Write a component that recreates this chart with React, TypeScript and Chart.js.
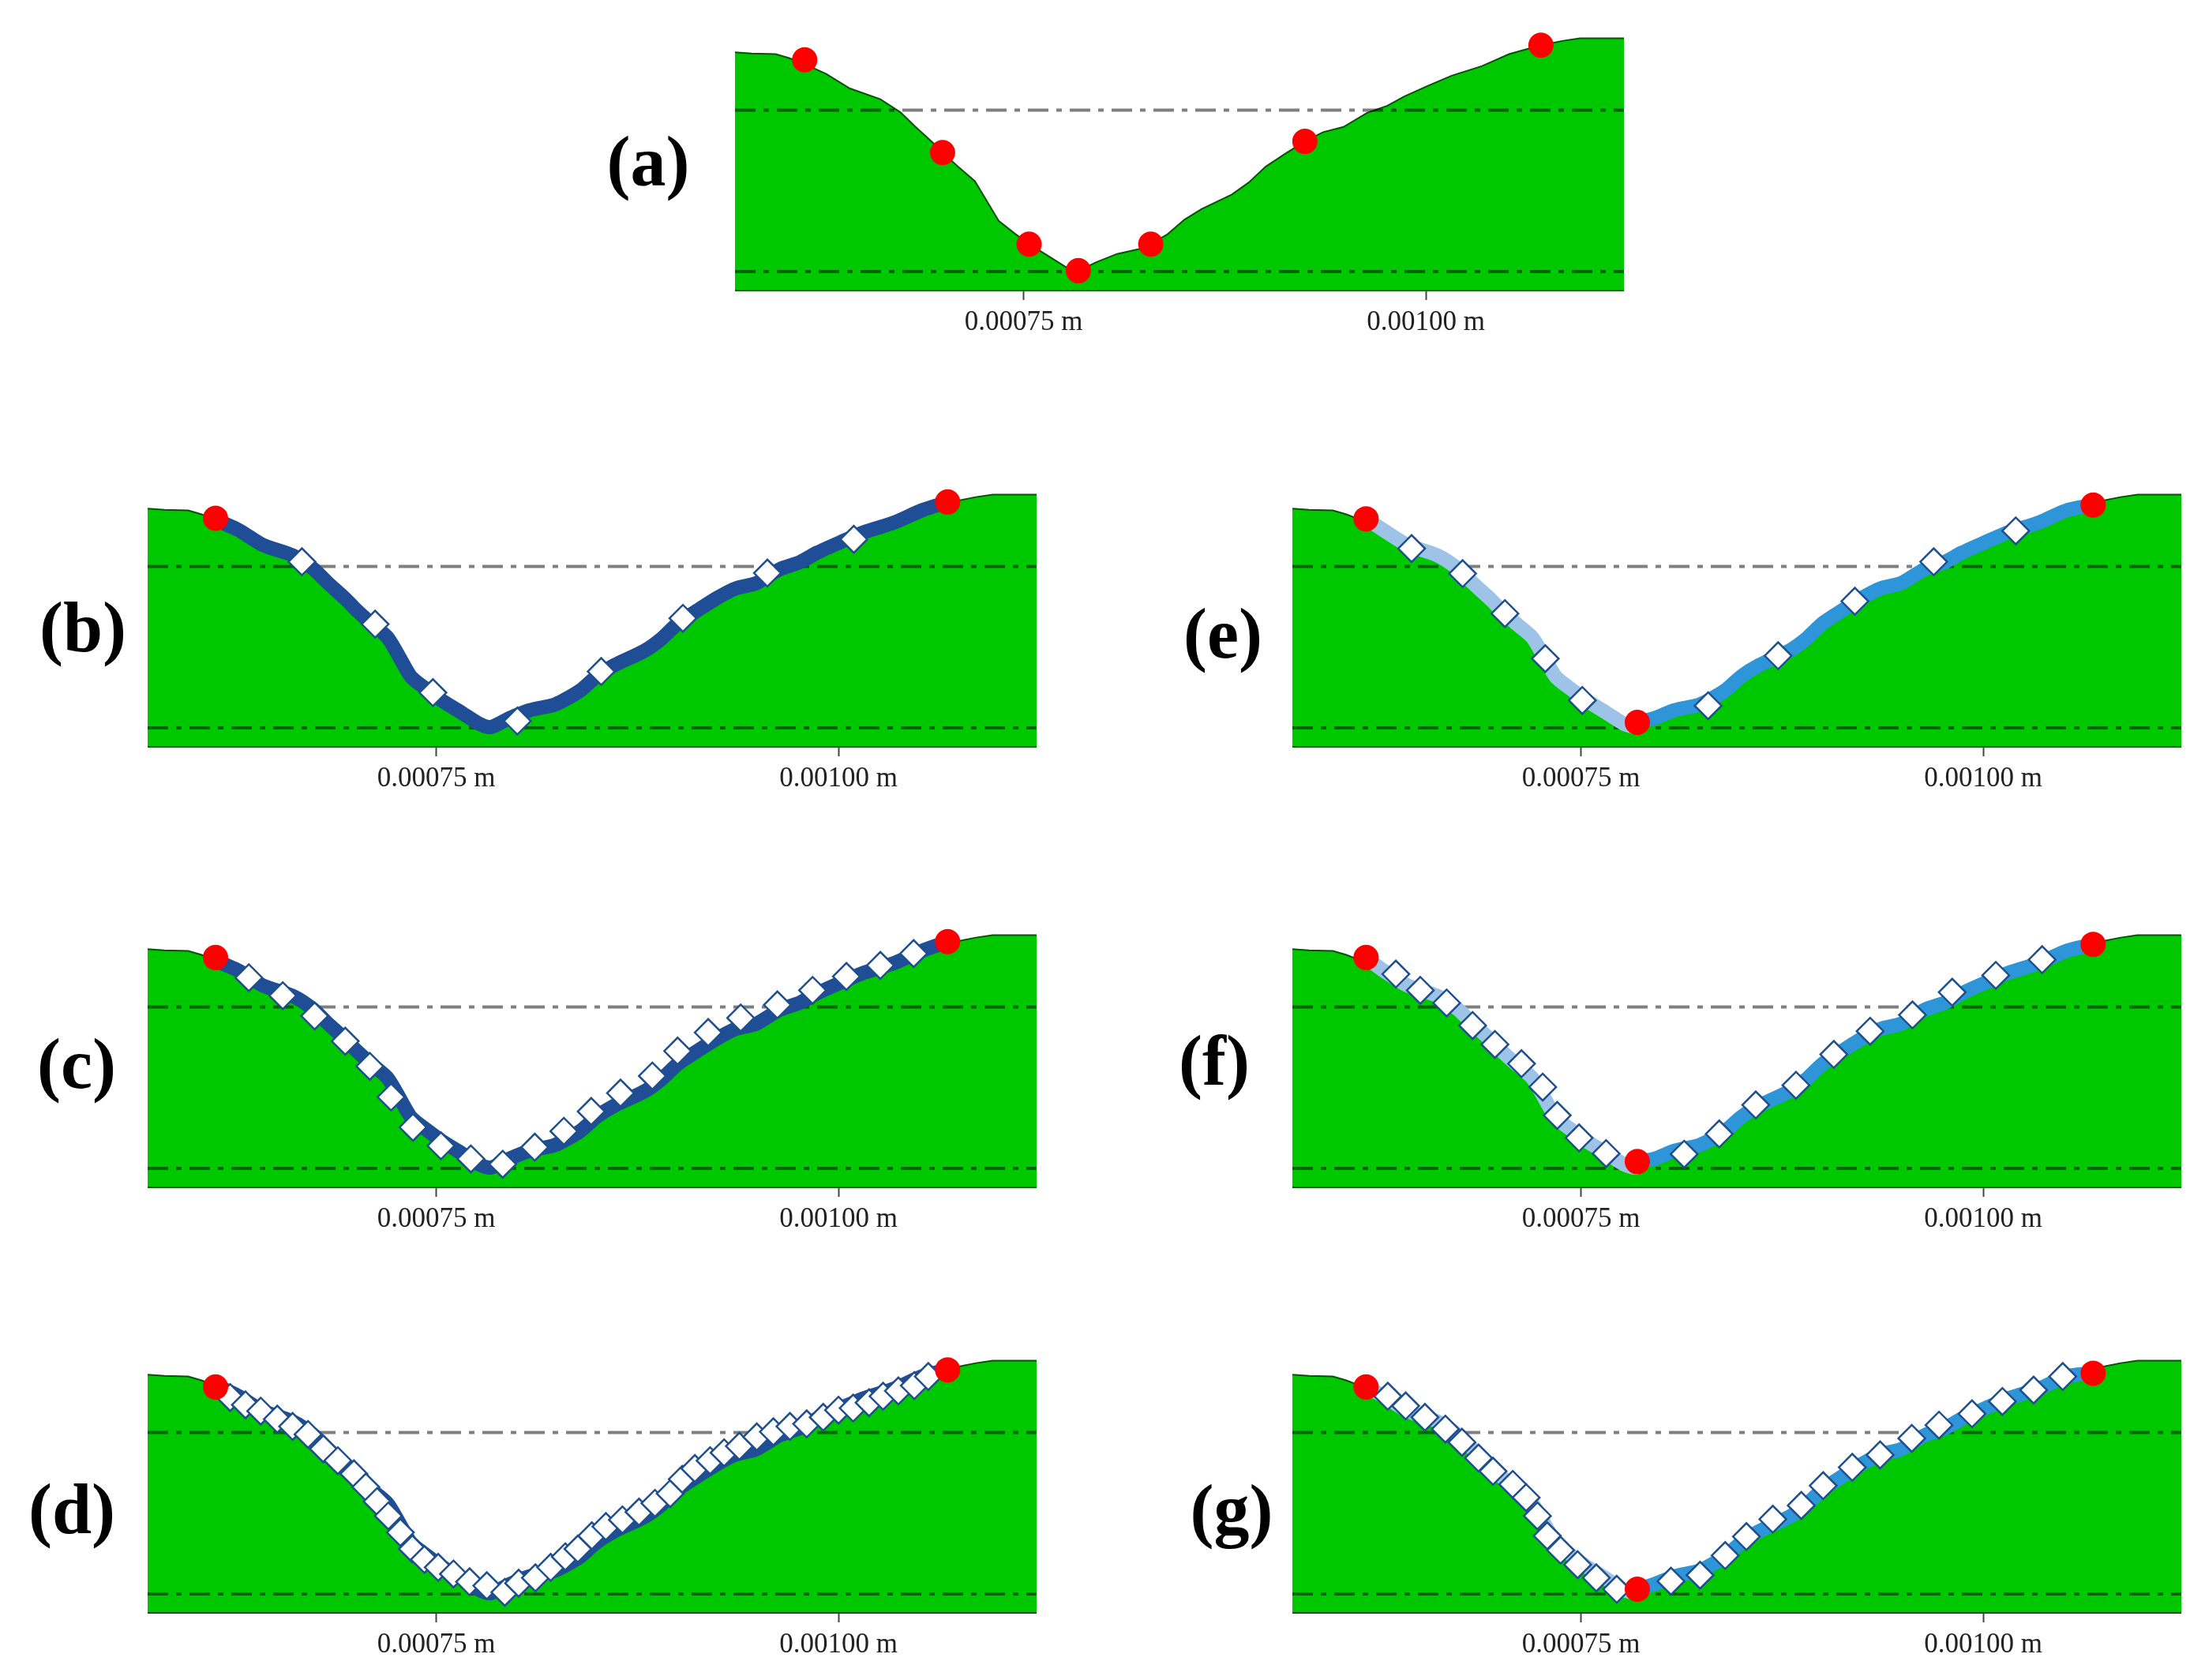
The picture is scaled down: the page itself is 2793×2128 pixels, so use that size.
import { useEffect, useRef } from 'react';
import { Chart, registerables } from 'chart.js';

Chart.register(...registerables);

// x in micrometres, y in height units
const profileX = [570.6, 581.1, 595.8, 604.2, 614.7, 627.3, 642.0, 660.9, 673.5, 681.9, 694.5, 699.6, 709.2, 719.7, 728.1, 734.5, 745.0, 753.4, 766.0, 776.5, 784.0, 795.4, 808.0, 822.7, 829.0, 839.5, 850.0, 860.5, 879.4, 889.9, 900.4, 913.0, 924.8, 936.1, 948.8, 963.5, 976.1, 986.6, 1001.3, 1016.0, 1034.9, 1051.7, 1071.5, 1085.3, 1095.8, 1123.1];
const profileY = [169.2, 168.3, 167.9, 165.1, 160.4, 153.8, 143.4, 135.8, 126.4, 117.0, 103.8, 97.7, 87.7, 77.4, 61.3, 49.1, 39.6, 32.5, 23.6, 16.0, 13.6, 19.8, 25.5, 29.2, 32.5, 39.6, 50.0, 57.5, 67.9, 76.4, 87.7, 97.2, 105.7, 112.3, 116.0, 126.0, 131.1, 137.7, 145.3, 152.5, 159.4, 167.9, 174.2, 177.4, 179.2, 179.2];

const xMin = 570.6;
const xMax = 1123.1;
const yMax = 180;
const upperLevel = 128;
const lowerLevel = 13;
const tickValues = [750, 1000];

const redAX = [613.9, 699.6, 753.4, 784.0, 829.0, 924.8, 1071.5];
const redAY = [163.8, 97.7, 32.5, 13.6, 32.5, 105.7, 174.2];

const redBX = [612.8, 1067.8];
const redBY = [162.3, 173.9];
const nodesBX = [666.5, 712.0, 747.9, 800.4, 852.5, 903.3, 955.8, 1009.5];
const nodesBY = [131.3, 86.9, 38.1, 17.8, 53.1, 91.0, 123.3, 147.3];

const redCX = [612.8, 1067.8];
const redCY = [163.2, 174.5];
const nodesCX = [633.5, 654.6, 674.4, 693.4, 708.7, 721.9, 735.5, 752.9, 771.5, 791.3, 811.2, 829.3, 846.3, 864.5, 884.3, 900.0, 919.0, 939.2, 962.0, 983.9, 1004.9, 1026.0, 1046.7];
const nodesCY = [148.8, 136.0, 121.6, 103.6, 85.7, 63.8, 42.2, 29.1, 19.7, 15.9, 28.1, 39.4, 53.5, 66.6, 78.8, 96.6, 109.8, 120.1, 129.5, 139.8, 149.7, 157.6, 166.0];

const redDX = [612.8, 1067.8];
const redDY = [160.4, 172.6];
const nodesDX = [621.9, 631.4, 640.9, 651.2, 660.7, 670.3, 679.8, 688.8, 698.8, 706.2, 713.2, 720.2, 727.7, 735.1, 742.6, 751.2, 760.7, 770.7, 781.4, 792.6, 801.2, 811.6, 821.1, 830.2, 838.0, 846.7, 855.4, 865.7, 876.0, 885.9, 895.4, 902.9, 910.7, 920.2, 928.9, 938.4, 949.2, 959.5, 969.8, 980.2, 990.5, 1000.0, 1009.1, 1019.0, 1027.7, 1037.2, 1047.1, 1055.8];
const nodesDY = [152.9, 147.7, 143.2, 137.5, 132.3, 126.6, 116.3, 107.9, 98.5, 89.1, 78.8, 68.5, 56.8, 45.0, 37.5, 31.9, 27.2, 21.6, 18.8, 14.1, 20.6, 24.4, 31.9, 39.4, 45.0, 54.4, 61.0, 65.7, 71.3, 77.5, 84.4, 94.7, 102.3, 107.9, 113.5, 118.2, 124.8, 128.5, 132.3, 134.1, 138.8, 143.9, 145.4, 149.2, 153.8, 157.6, 161.4, 167.9];

const redEX = [616.4, 785.0, 1068.3];
const redEY = [161.9, 16.9, 171.7];
const nodesEX = [644.7, 676.4, 702.7, 727.8, 750.8, 829.0, 872.5, 920.2, 969.2, 1020.2];
const nodesEY = [140.7, 122.9, 94.4, 62.3, 32.5, 28.7, 64.4, 103.2, 131.3, 153.3];

const redFX = [616.4, 785.0, 1068.3];
const redFY = [163.2, 17.8, 172.6];
const nodesFX = [634.9, 650.1, 666.5, 682.6, 696.5, 713.0, 726.2, 735.2, 748.8, 765.6, 814.1, 835.9, 858.6, 883.6, 907.1, 929.7, 956.0, 980.7, 1007.8, 1036.6];
const nodesFY = [151.4, 139.8, 130.8, 114.8, 101.3, 87.6, 70.9, 50.7, 34.7, 23.5, 23.1, 37.5, 58.2, 72.2, 94.2, 110.7, 122.3, 138.5, 150.5, 161.7];

const redGX = [616.4, 785.0, 1068.3];
const redGY = [160.4, 16.3, 170.2];
const nodesGX = [629.9, 641.0, 653.0, 665.7, 676.0, 686.3, 695.3, 707.6, 715.9, 722.9, 729.0, 737.3, 747.9, 759.5, 772.2, 805.9, 824.0, 839.6, 852.8, 869.2, 886.9, 900.5, 918.6, 935.9, 955.6, 972.5, 993.0, 1011.9, 1031.3, 1049.4];
const nodesGY = [153.8, 146.9, 138.8, 130.4, 121.0, 109.8, 100.4, 91.0, 81.6, 68.5, 54.4, 44.1, 33.8, 24.4, 16.3, 22.0, 26.3, 40.3, 53.8, 66.2, 76.0, 90.1, 103.2, 112.0, 123.8, 133.2, 141.3, 150.1, 158.2, 167.9];

const zip = (xs: number[], ys: number[]) => xs.map((x, i) => ({ x, y: ys[i] }));

// the thick trace follows the surface between two red points
const pathBetween = (xs: number[], ys: number[], from: number, to: number) => [
  { x: xs[from], y: ys[from] },
  ...zip(profileX, profileY).filter((p) => p.x > xs[from] && p.x < xs[to]),
  { x: xs[to], y: ys[to] },
];

const DARK_BLUE = '#1f4e96';
const LIGHT_BLUE = '#9dc3e6';
const MID_BLUE = '#2e96d8';

interface PanelProps {
  label: string;
  left: number;
  base: number;
  labelX: number;
  labelY: number;
  redX: number[];
  redY: number[];
  nodesX?: number[];
  nodesY?: number[];
}

const PLOT_WIDTH = 1126;
const PLOT_HEIGHT = 320;
const PAD_TOP = 30;
const AXIS_HEIGHT = 70;

const Panel = (props: PanelProps) => {
  const canvasRef = useRef<HTMLCanvasElement>(null);

  useEffect(() => {
    const { redX, redY, nodesX, nodesY } = props;
    const levelLine = (y: number) => ({
      data: [{ x: xMin, y }, { x: xMax, y }],
      borderColor: 'rgba(0,0,0,0.5)',
      borderWidth: 4,
      borderDash: [26, 10, 7, 10],
      pointRadius: 0,
      order: 4,
    });
    const trace = (from: number, to: number, color: string) => ({
      data: pathBetween(redX, redY, from, to),
      borderColor: color,
      borderWidth: 18,
      borderCapStyle: 'round' as const,
      borderJoinStyle: 'round' as const,
      tension: 0.25,
      pointRadius: 0,
      clip: false,
      order: 3,
    });

    const datasets: any[] = [
      {
        data: zip(profileX, profileY),
        borderColor: '#0b4f0b',
        borderWidth: 2,
        backgroundColor: '#00c800',
        fill: 'origin',
        pointRadius: 0,
        order: 5,
      },
      levelLine(upperLevel),
      levelLine(lowerLevel),
    ];

    if (nodesX && nodesY) {
      if (redX.length === 3) {
        datasets.push(trace(0, 1, LIGHT_BLUE), trace(1, 2, MID_BLUE));
      } else {
        datasets.push(trace(0, 1, DARK_BLUE));
      }
      datasets.push({
        data: zip(nodesX, nodesY),
        showLine: false,
        pointStyle: 'rectRot',
        pointRadius: 17,
        pointBackgroundColor: '#ffffff',
        pointBorderColor: '#1f4e8c',
        pointBorderWidth: 2.5,
        clip: false,
        order: 2,
      });
    }

    datasets.push({
      data: zip(redX, redY),
      showLine: false,
      pointStyle: 'circle',
      pointRadius: 16,
      pointBackgroundColor: '#ff0000',
      pointBorderColor: '#ff0000',
      pointBorderWidth: 0,
      clip: false,
      order: 1,
    });

    const chart = new Chart(canvasRef.current!, {
      type: 'line',
      data: { datasets },
      options: {
        animation: false,
        responsive: false,
        layout: { autoPadding: false, padding: { top: PAD_TOP, left: 0, right: 0, bottom: 0 } },
        plugins: { legend: { display: false }, tooltip: { enabled: false } },
        scales: {
          y: { type: 'linear', display: false, min: 0, max: yMax },
          x: {
            type: 'linear',
            min: xMin,
            max: xMax,
            afterFit: (axis: any) => {
              axis.height = AXIS_HEIGHT;
            },
            afterBuildTicks: (axis: any) => {
              axis.ticks = tickValues.map((value) => ({ value }));
            },
            border: { display: true, color: '#0b5a0b', width: 4 },
            grid: { drawOnChartArea: false, tickLength: 13, tickWidth: 2, tickColor: '#444444' },
            ticks: {
              autoSkip: false,
              maxRotation: 0,
              padding: 8,
              color: '#222222',
              font: { family: '"Liberation Serif"', size: 35 },
              callback: (v: any) => `${(Number(v) * 1e-6).toFixed(5)} m`,
            },
          },
        },
      },
    });
    return () => chart.destroy();
  }, [props]);

  return (
    <>
      <canvas
        ref={canvasRef}
        width={PLOT_WIDTH}
        height={PAD_TOP + PLOT_HEIGHT + AXIS_HEIGHT}
        style={{ position: 'absolute', left: props.left, top: props.base - PLOT_HEIGHT - PAD_TOP }}
      />
      <span
        style={{
          position: 'absolute',
          left: props.labelX,
          top: props.labelY,
          transform: 'translate(-50%, -50%)',
          font: 'bold 90px "Liberation Serif"',
          color: '#000',
        }}
      >
        {props.label}
      </span>
    </>
  );
};

export default function App() {
  return (
    <div style={{ position: 'absolute', left: 0, top: 0, width: 2793, height: 2128, background: '#fff', overflow: 'hidden' }}>
      <Panel label="(a)" left={931} base={367} labelX={821} labelY={204} redX={redAX} redY={redAY} />
      <Panel label="(b)" left={187} base={945} labelX={105} labelY={794} redX={redBX} redY={redBY} nodesX={nodesBX} nodesY={nodesBY} />
      <Panel label="(c)" left={187} base={1503} labelX={97} labelY={1347} redX={redCX} redY={redCY} nodesX={nodesCX} nodesY={nodesCY} />
      <Panel label="(d)" left={187} base={2042} labelX={91} labelY={1911} redX={redDX} redY={redDY} nodesX={nodesDX} nodesY={nodesDY} />
      <Panel label="(e)" left={1637} base={945} labelX={1549} labelY={802} redX={redEX} redY={redEY} nodesX={nodesEX} nodesY={nodesEY} />
      <Panel label="(f)" left={1637} base={1503} labelX={1538} labelY={1343} redX={redFX} redY={redFY} nodesX={nodesFX} nodesY={nodesFY} />
      <Panel label="(g)" left={1637} base={2042} labelX={1560} labelY={1912} redX={redGX} redY={redGY} nodesX={nodesGX} nodesY={nodesGY} />
    </div>
  );
}
